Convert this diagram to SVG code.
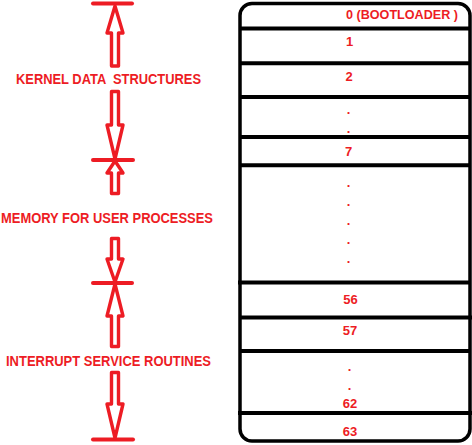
<svg xmlns="http://www.w3.org/2000/svg" width="472" height="445" viewBox="0 0 472 445">
<style>
.lbl{font-family:"Liberation Sans",Arial,sans-serif;font-weight:bold;font-size:14px;fill:#ED1C24}
.num{font-family:"Liberation Sans",Arial,sans-serif;font-weight:bold;font-size:13px;fill:#ED1C24;text-anchor:middle}
.arr{fill:#FFFFFF;stroke:#ED1C24;stroke-width:3.4;stroke-linejoin:round}
.bar{stroke:#ED1C24;stroke-width:4;stroke-linecap:round}
.row{stroke:#000000;stroke-width:4}
</style>
<rect width="472" height="445" fill="#FFFFFF"/>
<g id="memory">
<rect x="240" y="3.5" width="230" height="437.5" rx="12" ry="12" fill="#FFFFFF" stroke="#000000" stroke-width="3.5"/>
<line class="row" x1="240" y1="28.5" x2="470" y2="28.5"/>
<line class="row" x1="240" y1="63.3" x2="470" y2="63.3"/>
<line class="row" x1="240" y1="97" x2="470" y2="97"/>
<line class="row" x1="240" y1="137" x2="470" y2="137"/>
<line class="row" x1="240" y1="165.3" x2="470" y2="165.3"/>
<line class="row" x1="238" y1="282.5" x2="470" y2="282.5"/>
<line class="row" x1="240" y1="317.5" x2="472" y2="317.5"/>
<line class="row" x1="240" y1="351" x2="470" y2="351"/>
<line class="row" x1="238" y1="413" x2="472" y2="413"/>
<text class="lbl" x="346" y="19" style="font-size:12.5px" textLength="112" lengthAdjust="spacingAndGlyphs">0 (BOOTLOADER )</text>
<text class="num" x="349.5" y="46">1</text>
<text class="num" x="349" y="81">2</text>
<text class="num" x="348.5" y="114">.</text>
<text class="num" x="348.5" y="133">.</text>
<text class="num" x="348.5" y="156">7</text>
<text class="num" x="348.5" y="187">.</text>
<text class="num" x="348.5" y="206">.</text>
<text class="num" x="348.5" y="225">.</text>
<text class="num" x="348.5" y="244">.</text>
<text class="num" x="348.5" y="263">.</text>
<text class="num" x="350.5" y="304">56</text>
<text class="num" x="350" y="335">57</text>
<text class="num" x="349.5" y="371">.</text>
<text class="num" x="349.5" y="390">.</text>
<text class="num" x="350" y="408">62</text>
<text class="num" x="350" y="436">63</text>
</g>
<g id="kernel">
<text class="lbl" x="16" y="84" xml:space="preserve" textLength="185" lengthAdjust="spacingAndGlyphs">KERNEL DATA  STRUCTURES</text>
</g>
<g id="user">
<text class="lbl" x="1" y="223" textLength="212" lengthAdjust="spacingAndGlyphs">MEMORY FOR USER PROCESSES</text>
</g>
<g id="isr">
<text class="lbl" x="6" y="366" textLength="205" lengthAdjust="spacingAndGlyphs">INTERRUPT SERVICE ROUTINES</text>
</g>
<g id="connectors">
<line class="bar" x1="93" y1="3.5" x2="132" y2="3.5"/>
<line class="bar" x1="93" y1="160" x2="133" y2="160"/>
<line class="bar" x1="93" y1="283" x2="132" y2="283"/>
<line class="bar" x1="93" y1="439.5" x2="133" y2="439.5"/>
<polygon class="arr" points="115,6 123,33 118.5,33 118.5,66 111.5,66 111.5,33 107,33"/>
<polygon class="arr" points="115,159 123,125 118.5,125 118.5,91.5 111.5,91.5 111.5,125 107,125"/>
<polygon class="arr" points="115,161 123,173 118.5,173 118.5,193.5 111.5,193.5 111.5,173 107,173"/>
<polygon class="arr" points="115,282 123,259 118.5,259 118.5,238.5 111.5,238.5 111.5,259 107,259"/>
<polygon class="arr" points="115,284 123,316 118.5,316 118.5,346.5 111.5,346.5 111.5,316 107,316"/>
<polygon class="arr" points="115,438 123,404 118.5,404 118.5,372.5 111.5,372.5 111.5,404 107,404"/>
</g>
</svg>
